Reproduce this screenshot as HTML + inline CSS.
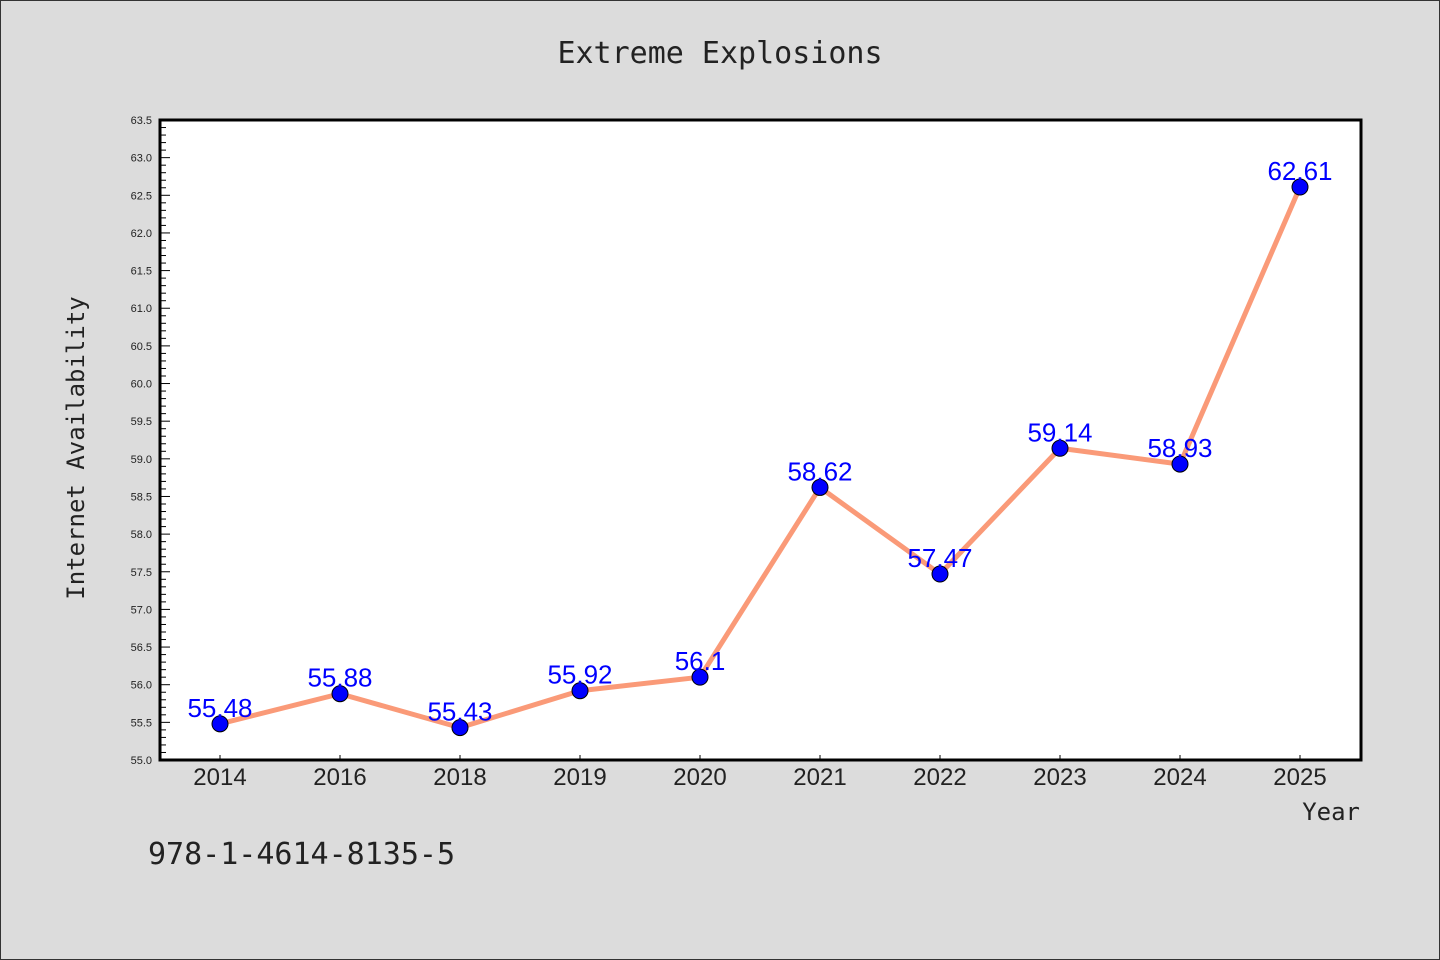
<!DOCTYPE html>
<html><head><meta charset="utf-8"><style>
html,body{margin:0;padding:0;background:#dcdcdc;}
svg{display:block;font-family:"Liberation Sans","DejaVu Sans",sans-serif;}
</style></head><body>
<svg id="chart" width="1440" height="960">
<rect x="0.5" y="0.5" width="1439" height="959" fill="#dcdcdc" stroke="#333"/>
<text x="720" y="63" text-anchor="middle" font-size="30" font-family="DejaVu Sans Mono, Liberation Mono, monospace" fill="#222">Extreme Explosions</text>
<rect x="160" y="120" width="1201" height="640" fill="#fff"/>
<g id="yaxis"></g>
<g id="xaxis"></g>
<g id="series"></g>
<rect x="160" y="120" width="1201" height="640" fill="none" stroke="#000" stroke-width="3"/>
<text transform="translate(84,448) rotate(-90)" text-anchor="middle" font-size="24" font-family="DejaVu Sans Mono, Liberation Mono, monospace" fill="#222">Internet Availability</text>
<text x="1360" y="820" text-anchor="end" font-size="24" font-family="DejaVu Sans Mono, Liberation Mono, monospace" fill="#222">Year</text>
<text x="148" y="864" font-size="30" font-family="DejaVu Sans Mono, Liberation Mono, monospace" fill="#222">978-1-4614-8135-5</text>
</svg>
<script>
const categories = ["2014","2016","2018","2019","2020","2021","2022","2023","2024","2025"];
const values = [55.48,55.88,55.43,55.92,56.1,58.62,57.47,59.14,58.93,62.61];
const labels = ["55.48","55.88","55.43","55.92","56.1","58.62","57.47","59.14","58.93","62.61"];
const yTicks = ["55.0","55.5","56.0","56.5","57.0","57.5","58.0","58.5","59.0","59.5","60.0","60.5","61.0","61.5","62.0","62.5","63.0","63.5"];
const NS="http://www.w3.org/2000/svg";
const yMin=55, yMax=63.5, plotTop=120, plotBot=760, plotLeft=160;
function yScale(v){return plotBot-(v-yMin)/(yMax-yMin)*(plotBot-plotTop);}
function xScale(i){return 220+i*120;}
function mk(t,a,p){const e=document.createElementNS(NS,t);for(const k in a)e.setAttribute(k,a[k]);p.appendChild(e);return e;}
const ya=document.getElementById('yaxis'), xa=document.getElementById('xaxis'), se=document.getElementById('series');
for(let k=0;k<=85;k++){const v=yMin+k*0.1;const yy=yScale(v);const major=k%5===0;
 const l=mk('line',{x1:plotLeft,x2:plotLeft+(major?10:6),y1:yy,y2:yy,stroke:'#000','stroke-width':1},ya);
 
 }
yTicks.forEach(t=>{const tx=mk('text',{x:152,y:yScale(parseFloat(t))+4,'text-anchor':'end','font-size':11,fill:'#222'},ya);tx.textContent=t;
 
 });
categories.forEach((c,i)=>{const l=mk('line',{x1:xScale(i),x2:xScale(i),y1:plotBot,y2:plotBot-5,stroke:'#000'},xa);
 
 
 const t=mk('text',{x:xScale(i),y:785,'text-anchor':'middle','font-size':24,fill:'#222'},xa);t.textContent=c;
 
 });
const pts=values.map((v,i)=>xScale(i)+','+yScale(v)).join(' ');
const pl=mk('polyline',{points:pts,fill:'none',stroke:'#fa9a78','stroke-width':5,'stroke-linejoin':'round'},se);


values.forEach((v,i)=>{const c=mk('circle',{cx:xScale(i),cy:yScale(v),r:8,fill:'#0000ff',stroke:'#000','stroke-width':1},se);
 
 
 const t=mk('text',{x:xScale(i),y:yScale(v)-7,'text-anchor':'middle','font-size':26,fill:'#0000ff'},se);t.textContent=labels[i];
 
 });
</script>
</body></html>
